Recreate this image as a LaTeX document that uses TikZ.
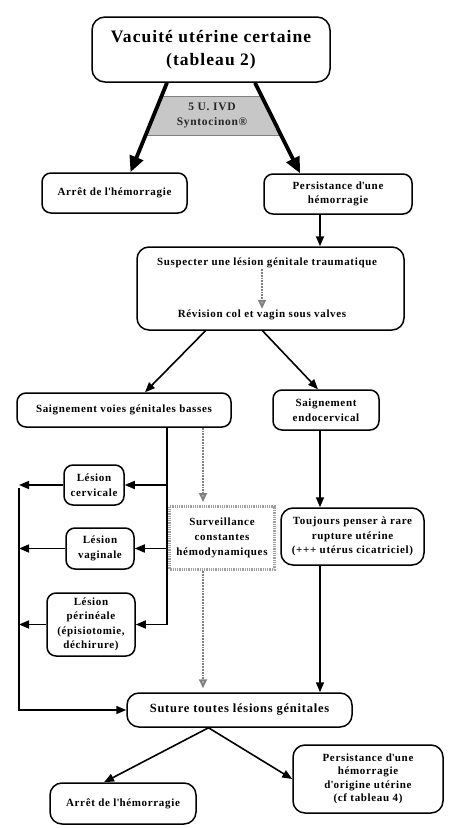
\documentclass[tikz,border=0pt]{standalone}
\usepackage{fontspec}
\setmainfont{Liberation Serif}[LetterSpace=6]
\usetikzlibrary{arrows.meta,calc,positioning}
\newcommand{\apo}{\textquotesingle}

\begin{document}
\begin{tikzpicture}[x=1pt,y=-1pt,
  boite/.style={draw, line width=1.5pt, rounded corners=9pt, align=center, inner sep=2pt,
    font=\bfseries\fontsize{11}{14.5}\selectfont},
  fleche/.style={line width=1.6pt, -{Triangle[length=10pt,width=8pt]}},
  grosse/.style={line width=3.8pt, -{Triangle[length=16pt,width=14pt]}},
  pointille/.style={gray, densely dotted, line width=1.8pt,
    -{Triangle[length=9pt,width=8pt,fill=gray!60,color=gray]}}]
\useasboundingbox (0,0) rectangle (454,828);

% boites
\node[boite, minimum width=238pt, minimum height=65pt, rounded corners=13pt,
  font=\bfseries\fontsize{17.5}{23}\selectfont] (vacuite) at (211,49.5) {Vacuité utérine certaine\\(tableau 2)};
\node[boite, minimum width=145pt, minimum height=40pt] (arret) at (114.5,193) {Arrêt de l\apo hémorragie};
\node[boite, minimum width=148pt, minimum height=40pt] (persist) at (338,194) {Persistance d\apo une\\hémorragie};
\node[boite, minimum width=267pt, minimum height=83pt, rounded corners=12pt] (suspect) at (270.5,288.5) {};
\node[font=\bfseries\fontsize{11}{14.5}\selectfont, inner sep=1pt] (suspA) at (267,263) {Suspecter une lésion génitale traumatique};
\node[font=\bfseries\fontsize{11}{14.5}\selectfont, inner sep=1pt] (suspB) at (262,315) {Révision col et vagin sous valves};
\node[boite, minimum width=214pt, minimum height=34pt] (saignG) at (124,410) {Saignement voies génitales basses};
\node[boite, minimum width=106pt, minimum height=40pt] (saignD) at (326,410) {Saignement\\endocervical};
\node[boite, minimum width=60pt, minimum height=40pt] (cerv) at (94,485) {Lésion\\cervicale};
\node[boite, minimum width=68pt, minimum height=41pt] (vagin) at (100,548.5) {Lésion\\vaginale};
\node[boite, minimum width=88pt, minimum height=63pt] (perin) at (91,624.5) {Lésion\\périnéale\\(épisiotomie,\\déchirure)};
\node[draw=gray!75, dash pattern=on 1pt off 0.8pt, line width=3pt, minimum width=105pt, minimum height=63pt, align=center,
  font=\bfseries\fontsize{11}{15}\selectfont] (surv) at (222,538) {Surveillance\\constantes\\hémodynamiques};
\node[boite, minimum width=143pt, minimum height=57pt, rounded corners=12pt] (toujours) at (352.5,536.5) {Toujours penser à rare\\rupture utérine\\(+++ utérus cicatriciel)};
\node[boite, minimum width=225pt, minimum height=34pt, rounded corners=12pt,
  font=\bfseries\fontsize{12.5}{15}\selectfont] (suture) at (239.5,710) {Suture toutes lésions génitales};
\node[boite, minimum width=146pt, minimum height=41pt, rounded corners=12pt] (arret2) at (123,803.5) {Arrêt de l\apo hémorragie};
\node[boite, minimum width=150pt, minimum height=68pt, rounded corners=12pt,
  font=\bfseries\fontsize{11}{13.5}\selectfont] (persist2) at (368,779) {Persistance d\apo une\\hémorragie\\d\apo origine utérine\\(cf tableau 4)};

% traitement
\fill[black!22] (161,96) -- (262,96) -- (282,135) -- (145,135) -- cycle;
\draw[gray, line width=0.6pt] (161,96) -- (262,96) (145,135) -- (282,135);
\node[align=center, text=black!85, font=\bfseries\fontsize{11.5}{15}\selectfont] (dose) at (212,115) {5 U. IVD\\Syntocinon®};
\draw[grosse] ([xshift=-44pt]vacuite.south) -- ([xshift=16pt]arret.north);
\draw[grosse] ([xshift=44pt]vacuite.south) -- ([xshift=-38pt]persist.north);

% axes
\coordinate (axeD) at (320,0);
\coordinate (axeG) at (167,0);
\coordinate (axeP) at (203,0);
\coordinate (axeR) at (19,0);

\draw[fleche] (axeD |- persist.south) -- (axeD |- suspect.north);
\draw[pointille] (suspB.north |- suspA.south) -- (suspB.north);
\draw[fleche] ([xshift=-65pt]suspect.south) -- ([xshift=21pt]saignG.north);
\draw[fleche] ([xshift=-8pt]suspect.south) -- ([xshift=-8pt]saignD.north);

\draw[line width=1.6pt] (axeG |- saignG.south) -- (axeG |- perin.east);
\foreach \n in {cerv,vagin,perin} {
  \draw[fleche] (axeG |- \n.east) -- (\n.east);
  \draw[fleche] (\n.west) -- (axeR |- \n.west);
}
\draw[fleche] ([yshift=-3pt]axeR |- cerv.west) |- (suture.west);

\draw[pointille, shorten >=3pt] (axeP |- saignG.south) -- (axeP |- surv.north);
\draw[pointille, shorten >=4pt] (axeP |- surv.south) -- (axeP |- suture.north);
\draw[fleche] (axeD |- saignD.south) -- (axeD |- toujours.north);
\draw[fleche] (axeD |- toujours.south) -- (axeD |- suture.north);

\draw[fleche] ([xshift=-31pt]suture.south) -- ([xshift=-19pt]arret2.north);
\draw[fleche] ([xshift=-31pt]suture.south) -- (persist2.west);
\end{tikzpicture}
\end{document}
